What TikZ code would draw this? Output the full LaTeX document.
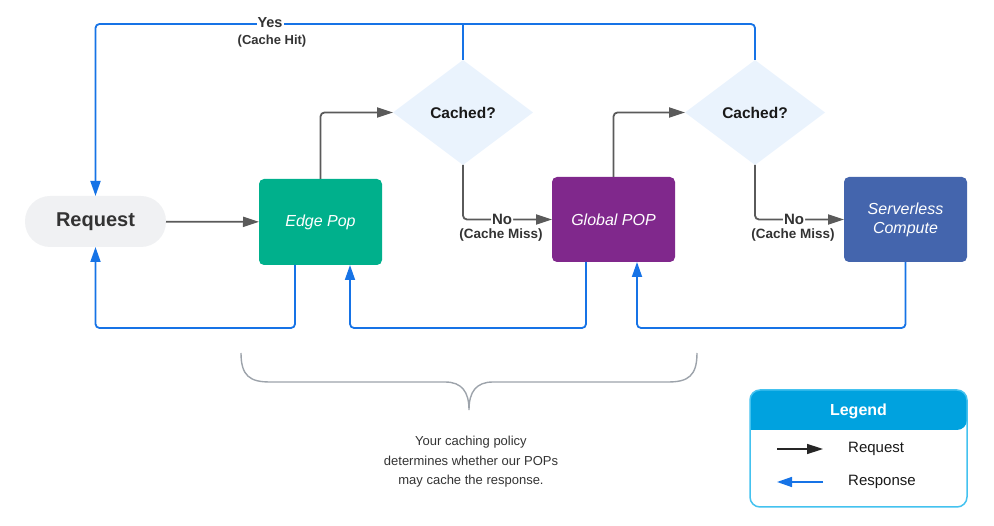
\documentclass[tikz,border=0pt]{standalone}
\usepackage{fontspec}
\setmainfont{Liberation Sans}
\usetikzlibrary{shapes.geometric,arrows.meta}

\definecolor{reqgray}{HTML}{5A5A5A}
\definecolor{respblue}{HTML}{1673E6}
\definecolor{reqfill}{HTML}{F0F1F3}
\definecolor{edgegreen}{HTML}{00B08C}
\definecolor{globalpurple}{HTML}{80288C}
\definecolor{srvblue}{HTML}{4465AD}
\definecolor{askblue}{HTML}{EAF3FD}
\definecolor{bracegray}{HTML}{9DA3AB}
\definecolor{textgray}{HTML}{333333}
\definecolor{legendblue}{HTML}{00A2DF}
\definecolor{legendedge}{HTML}{44C2EF}

\begin{document}
\begin{tikzpicture}[x=1pt, y=-1pt,
  box/.style={rounded corners=5pt, minimum width=123pt, minimum height=85pt, inner sep=0pt, outer sep=0pt, text=white, align=center, font=\fontsize{16}{19}\selectfont\itshape},
  ask/.style={diamond, fill=askblue, minimum width=140pt, minimum height=105pt, inner sep=0pt, outer sep=0pt, text=black!90, font=\fontsize{15.5}{18}\selectfont\bfseries},
  req/.style={draw=reqgray, line width=1.8pt, rounded corners=4pt, -{Triangle[length=16pt, width=10pt]}},
  resp/.style={draw=respblue, line width=1.8pt, rounded corners=4pt, -{Triangle[length=15pt, width=10pt]}},
  lbl/.style={text=textgray, inner sep=1pt, font=\fontsize{13.5}{16}\selectfont\bfseries}
]

\useasboundingbox (0,0) rectangle (994,526);

\node (req) at (95.5,221.5) [fill=reqfill, rounded corners=25pt, minimum width=141pt, minimum height=51pt, outer sep=0pt, text=textgray, font=\fontsize{20}{24}\selectfont\bfseries] {Request};
\node (edge) at (320.5,222) [box, fill=edgegreen, minimum height=86pt] {Edge Pop};
\node (d1) at (463,112.5) [ask] {Cached?};
\node (global) at (613.5,219.5) [box, fill=globalpurple] {Global POP};
\node (d2) at (755,112.5) [ask] {Cached?};
\node (srv) at (905.5,219.5) [box, fill=srvblue] {Serverless\\Compute};

\draw [req] (req) -- (edge);
\draw [req] (edge.north) |- (d1.west);
\draw [req] (d1.south) |- (global.west) node [pos=0.72, fill=white, lbl, font=\fontsize{15}{18}\selectfont\bfseries] (no1) {No};
\node (miss1) at (501,235) [lbl] {(Cache Miss)};
\draw [req] (global.north) |- (d2.west);
\draw [req] (d2.south) |- (srv.west) node [pos=0.72, fill=white, lbl, font=\fontsize{15}{18}\selectfont\bfseries] (no2) {No};
\node (miss2) at (793,235) [lbl] {(Cache Miss)};

\draw [resp] (d2.north) -- ++(0,-36) -| (req.north);
\draw [resp, -] (d1.north) -- ++(0,-36);
\node (yes) at (270,22.5) [fill=white, lbl, font=\fontsize{14.5}{17}\selectfont\bfseries] {Yes};
\node (hit) at (272,41.5) [lbl, font=\fontsize{13}{16}\selectfont\bfseries] {(Cache Hit)};

\draw [resp] ([xshift=-25.5pt]edge.south) -- ++(0,63) -| (req.south);
\draw [resp] ([xshift=-27.5pt]global.south) -- ++(0,66) -| ([xshift=29.5pt]edge.south);
\draw [resp] (srv.south) -- ++(0,66) -| ([xshift=23.5pt]global.south);

\draw [bracegray, line width=1.4pt] (241,353) .. controls (241,376) and (250,382) .. (270,382) -- (445,382) .. controls (462,382) and (469,392) .. (469,410) .. controls (469,392) and (476,382) .. (493,382) -- (668,382) .. controls (688,382) and (697,376) .. (697,353);

\node (note) at (471,462) [align=center, text=textgray, font=\fontsize{13}{19.5}\selectfont] {Your caching policy\\determines whether our POPs\\may cache the response.};

\fill [legendblue] (750,430) [rounded corners=10pt] |- (858,390) -| (967,430) [sharp corners] -- cycle;
\draw [legendedge, line width=1.5pt, rounded corners=10pt] (750,390) rectangle (967,507);
\node (legtitle) at (858.5,411) [text=white, font=\fontsize{16}{19}\selectfont\bfseries] {Legend};
\coordinate (lreq) at (777,449);
\coordinate (lresp) at (823,482);
\draw [req, draw=black!85, line width=1.5pt] (lreq) -- ++(46,0);
\draw [resp, line width=1.5pt] (lresp) -- ++(-46,0);
\node (legreq) at (848,449) [anchor=west, inner sep=0pt, text=black!90, font=\fontsize{15}{18}\selectfont] {Request};
\node (legresp) at (848,482) [anchor=west, inner sep=0pt, text=black!90, font=\fontsize{15}{18}\selectfont] {Response};

\end{tikzpicture}
\end{document}
